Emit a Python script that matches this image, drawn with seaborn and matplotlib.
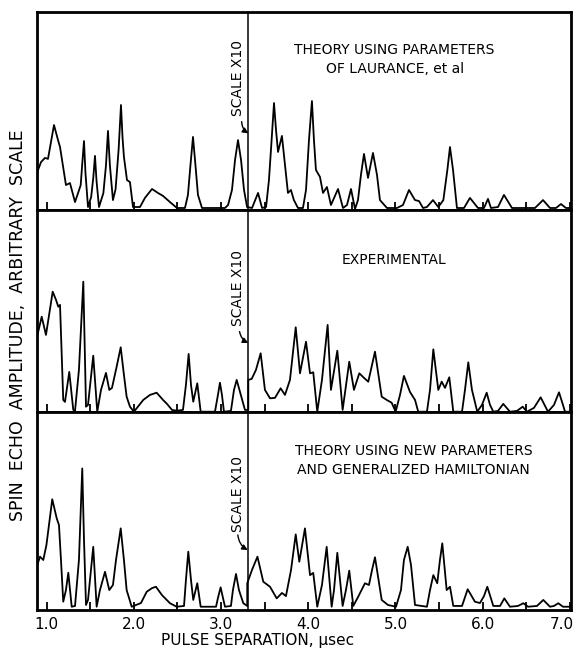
import matplotlib
matplotlib.use("Agg")
import matplotlib.pyplot as plt
import matplotlib.transforms as mtransforms
import numpy as np
import pandas as pd
import seaborn as sns

# ---------------- data (pulse separation in usec, amplitude in arbitrary units) -------------
theory_old_x = [0.889, 0.935, 0.981, 1.015, 1.084, 1.130, 1.153, 1.221, 1.267, 1.325, 1.390, 1.410,
                1.428, 1.445, 1.474, 1.510, 1.535, 1.554, 1.572, 1.600, 1.650, 1.680, 1.703, 1.725,
                1.760, 1.790, 1.825, 1.852, 1.870, 1.886, 1.921, 1.955, 1.990, 2.070, 2.127, 2.208,
                2.276, 2.334, 2.414, 2.494, 2.586, 2.620, 2.649, 2.678, 2.706, 2.735, 2.781, 3.045,
                3.080, 3.125, 3.160, 3.194, 3.229, 3.263, 3.298, 3.355, 3.424, 3.470, 3.516, 3.549,
                3.572, 3.607, 3.630, 3.653, 3.698, 3.733, 3.767, 3.801, 3.835, 3.882, 3.939, 3.974,
                4.008, 4.042, 4.065, 4.088, 4.134, 4.169, 4.214, 4.260, 4.341, 4.398, 4.444, 4.490,
                4.536, 4.570, 4.604, 4.639, 4.685, 4.742, 4.788, 4.822, 4.903, 5.017, 5.086, 5.155,
                5.224, 5.270, 5.316, 5.361, 5.430, 5.491, 5.549, 5.595, 5.625, 5.660, 5.705, 5.786,
                5.854, 5.946, 6.015, 6.061, 6.095, 6.176, 6.244, 6.336, 6.600, 6.692, 6.772, 6.841,
                6.898, 6.955, 7.001]
theory_old_y = [18.2, 23.7, 25.8, 25.3, 42.4, 34.8, 31.3, 12.1, 13.1, 3.5, 12.0, 24.0,
                34.3, 18.0, 1.0, 6.0, 16.0, 26.8, 14.0, 1.0, 8.0, 22.0, 39.4, 22.0,
                4.5, 10.0, 30.0, 52.5, 36.0, 26.3, 14.6, 13.6, 1.0, 1.0, 5.6, 10.1,
                8.1, 6.6, 3.5, 0.5, 0.5, 7.1, 22.2, 36.4, 22.2, 7.1, 0.5, 0.5,
                2.0, 9.6, 24.7, 34.8, 24.7, 9.6, 1.0, 0.5, 8.1, 0.5, 1.0, 14.6,
                29.8, 53.5, 39.9, 28.8, 36.9, 22.2, 8.1, 9.6, 4.5, 0.5, 0.5, 9.6,
                34.8, 54.5, 34.8, 19.7, 16.2, 8.1, 11.1, 2.0, 10.1, 0.5, 2.0, 10.1,
                0.0, 4.5, 17.2, 27.8, 15.7, 28.3, 17.2, 4.5, 0.5, 0.5, 2.0, 9.6,
                4.5, 4.0, 0.5, 1.0, 4.5, 1.0, 4.5, 19.7, 31.3, 19.7, 0.5, 0.5,
                5.6, 0.5, 0.5, 5.1, 0.5, 1.0, 7.1, 0.5, 0.5, 4.5, 0.5, 0.5,
                2.5, 0.5, 0.5]

experiment_x = [0.889, 0.943, 0.992, 1.069, 1.107, 1.133, 1.153, 1.190, 1.210, 1.259, 1.305, 1.325,
                1.370, 1.420, 1.451, 1.474, 1.534, 1.580, 1.623, 1.680, 1.718, 1.749, 1.800, 1.849,
                1.886, 1.917, 1.955, 2.001, 2.108, 2.185, 2.261, 2.334, 2.380, 2.437, 2.491, 2.563,
                2.597, 2.628, 2.655, 2.681, 2.727, 2.766, 2.930, 2.964, 2.987, 3.010, 3.033, 3.113,
                3.148, 3.179, 3.217, 3.274, 3.312, 3.312, 3.351, 3.400, 3.454, 3.503, 3.561, 3.618,
                3.683, 3.733, 3.790, 3.856, 3.905, 3.974, 4.020, 4.057, 4.103, 4.157, 4.222, 4.260,
                4.333, 4.394, 4.470, 4.524, 4.585, 4.639, 4.688, 4.765, 4.842, 4.899, 4.956, 5.002,
                5.052, 5.097, 5.166, 5.224, 5.261, 5.361, 5.396, 5.434, 5.491, 5.530, 5.568, 5.617,
                5.663, 5.763, 5.797, 5.835, 5.877, 5.938, 5.992, 6.046, 6.084, 6.122, 6.176, 6.236,
                6.313, 6.393, 6.459, 6.508, 6.588, 6.665, 6.749, 6.818, 6.875, 6.921, 6.944, 7.001]
experiment_y = [37.4, 47.5, 38.4, 60.0, 55.9, 52.5, 53.4, 5.9, 4.9, 19.9, 0.9, 0.4,
                20.9, 65.0, 2.5, 3.4, 28.0, 0.0, 10.9, 19.4, 10.9, 11.9, 22.0, 32.2,
                18.4, 7.5, 2.5, 0.0, 5.9, 8.4, 9.5, 5.9, 3.9, 0.9, 0.5, 0.9,
                13.4, 28.9, 13.4, 5.0, 14.2, 0.0, 0.0, 8.4, 14.5, 8.4, 0.0, 0.4,
                10.9, 15.9, 9.9, 0.9, 0.9, 15.9, 16.4, 20.9, 29.2, 10.9, 6.7, 6.9,
                11.7, 8.4, 15.9, 42.2, 19.2, 35.0, 19.2, 19.7, 0.0, 15.9, 43.4, 10.9,
                30.5, 0.9, 25.0, 10.9, 19.2, 16.9, 15.0, 30.0, 7.5, 5.9, 4.5, 0.0,
                8.4, 17.9, 9.9, 5.9, 0.0, 0.0, 10.9, 31.2, 10.9, 15.0, 11.9, 17.2,
                0.0, 0.0, 10.9, 24.7, 10.9, 0.0, 3.4, 9.5, 3.4, 0.0, 0.4, 3.9,
                0.0, 0.4, 2.5, 0.0, 1.9, 7.2, 0.0, 3.4, 9.7, 3.4, 0.0, 0.0]

theory_new_x = [0.889, 0.923, 0.961, 0.997, 1.064, 1.115, 1.141, 1.164, 1.190, 1.221, 1.248, 1.287,
                1.325, 1.370, 1.408, 1.428, 1.451, 1.474, 1.534, 1.573, 1.611, 1.669, 1.718, 1.760,
                1.795, 1.849, 1.886, 1.917, 1.975, 2.081, 2.147, 2.208, 2.253, 2.322, 2.414, 2.491,
                2.575, 2.597, 2.624, 2.655, 2.681, 2.727, 2.766, 2.942, 2.964, 2.995, 3.022, 3.045,
                3.113, 3.136, 3.171, 3.205, 3.255, 3.300, 3.300, 3.354, 3.417, 3.484, 3.561, 3.638,
                3.698, 3.744, 3.802, 3.856, 3.897, 3.962, 4.020, 4.057, 4.103, 4.157, 4.211, 4.268,
                4.295, 4.333, 4.394, 4.432, 4.470, 4.516, 4.573, 4.650, 4.696, 4.731, 4.765, 4.842,
                4.914, 5.006, 5.063, 5.097, 5.140, 5.178, 5.224, 5.361, 5.396, 5.434, 5.479, 5.510,
                5.537, 5.587, 5.625, 5.663, 5.763, 5.828, 5.911, 5.969, 6.015, 6.053, 6.122, 6.199,
                6.248, 6.313, 6.405, 6.466, 6.520, 6.623, 6.695, 6.772, 6.818, 6.867, 6.921, 7.001]
theory_new_y = [21.0, 25.8, 24.1, 31.8, 55.4, 45.6, 42.1, 24.1, 2.6, 8.6, 17.5, 0.0,
                0.4, 24.1, 71.3, 34.4, 0.9, 3.5, 30.9, 0.0, 8.6, 18.0, 8.6, 11.2,
                24.1, 40.4, 24.1, 8.6, 0.0, 1.9, 7.7, 9.6, 10.3, 6.0, 1.8, 0.0,
                0.4, 13.8, 28.4, 13.8, 3.5, 12.1, 0.0, 0.0, 4.5, 10.0, 4.5, 0.0,
                0.4, 8.6, 16.9, 8.6, 1.8, 0.4, 12.1, 18.9, 25.8, 12.9, 10.3, 4.3,
                7.1, 5.5, 18.9, 37.3, 23.2, 40.4, 16.3, 17.4, 0.0, 11.2, 30.9, 0.0,
                8.6, 27.8, 0.4, 8.6, 18.6, 0.4, 5.2, 12.1, 11.2, 18.9, 25.5, 3.5,
                0.9, 0.0, 8.6, 24.1, 30.9, 21.5, 0.9, 0.0, 8.6, 16.3, 12.1, 24.1,
                32.7, 8.6, 10.3, 0.4, 0.4, 9.0, 2.6, 1.9, 5.5, 10.3, 0.4, 0.4,
                4.3, 0.0, 0.4, 1.8, 0.0, 0.4, 3.5, 0.0, 0.4, 1.8, 0.0, 0.0]

panel_titles = ["THEORY USING PARAMETERS\nOF LAURANCE, et al",
                "EXPERIMENTAL",
                "THEORY USING NEW PARAMETERS\nAND GENERALIZED HAMILTONIAN"]
scale_change_x = 3.31
scale_label = "SCALE X10"
major_ticks = [1.0, 2.0, 3.0, 4.0, 5.0, 6.0, 7.0]
minor_ticks = [1.5, 2.5, 3.5, 4.5, 5.5, 6.5]
tick_labels = ["1.0", "2.0", "3.0", "4.0", "5.0", "6.0", "7.0"]
x_label = "PULSE SEPARATION, \u00b5sec"
y_label = "SPIN  ECHO  AMPLITUDE,  ARBITRARY  SCALE"

# ---------------- figure ----------------
sns.set_style("white")
plt.rcParams['font.family'] = ['DejaVu Sans']
plt.rcParams['text.color'] = 'black'
plt.rcParams['axes.labelcolor'] = 'black'
plt.rcParams['xtick.color'] = 'black'

fig = plt.figure(figsize=(5.79, 6.57), dpi=100)
positions = [(0.0639, 0.6804, 0.9223, 0.3014),
             (0.0639, 0.3729, 0.9223, 0.3075),
             (0.0639, 0.0715, 0.9223, 0.3014)]
ylims = [(-0.5, 99.5), (-0.15, 100.85), (-1.7, 100.4)]
series = [(theory_old_x, theory_old_y), (experiment_x, experiment_y), (theory_new_x, theory_new_y)]
title_pos = [(4.99, 0.758), (4.985, 0.752), (5.21, 0.753)]
scale_text_y = [0.667, 0.614, 0.586]
arrow_tail = [(3.236, 0.446), (3.212, 0.398), (3.192, 0.379)]
arrow_head = [(3.312, 0.387), (3.312, 0.342), (3.305, 0.303)]

for i, (pos, (xs, ys)) in enumerate(zip(positions, series)):
    ax = fig.add_axes(pos)
    df = pd.DataFrame({"x": xs, "y": ys})
    sns.lineplot(data=df, x="x", y="y", ax=ax, color="black", lw=1.3,
                 sort=False, estimator=None)
    ax.set_xlim(0.889, 7.013)
    ax.set_ylim(*ylims[i])
    ax.set_xlabel("")
    ax.set_ylabel("")
    ax.set_yticks([])
    ax.set_xticks(major_ticks)
    ax.set_xticks(minor_ticks, minor=True)
    ax.tick_params(axis="x", which="both", direction="in", length=6, width=1.3,
                   bottom=True, top=False, color="black", labelcolor="black", pad=5,
                   labelbottom=(i == 2), labelsize=11)
    if i == 2:
        ax.set_xticklabels(tick_labels)
        last = ax.get_xticklabels()[-1]
        last.set_transform(last.get_transform() +
                           mtransforms.ScaledTranslation(-6 / 72, 0, fig.dpi_scale_trans))
    for sp in ax.spines.values():
        sp.set_linewidth(2.0)
        sp.set_color("black")
    ax.axvline(scale_change_x, color="black", lw=1.1)
    tr = ax.get_xaxis_transform()
    ax.text(title_pos[i][0], title_pos[i][1], panel_titles[i], transform=tr,
            ha="center", va="center", fontsize=10, linespacing=1.45, color="black")
    ax.text(3.194, scale_text_y[i], scale_label, transform=tr, rotation=90,
            ha="center", va="center", fontsize=10, color="black")
    ax.annotate("", xy=arrow_head[i], xytext=arrow_tail[i], xycoords=tr, textcoords=tr,
                arrowprops=dict(arrowstyle="-|>", color="black", lw=1.0,
                                connectionstyle="arc3,rad=0.25",
                                shrinkA=0, shrinkB=0, mutation_scale=8))

fig.text(0.031, 0.505, y_label, rotation=90, ha="center", va="center",
         fontsize=12.5, color="black")
fig.text(0.4456, 0.0244, x_label, ha="center", va="center", fontsize=11, color="black")

fig.savefig("out.png", dpi=100, facecolor="white")
